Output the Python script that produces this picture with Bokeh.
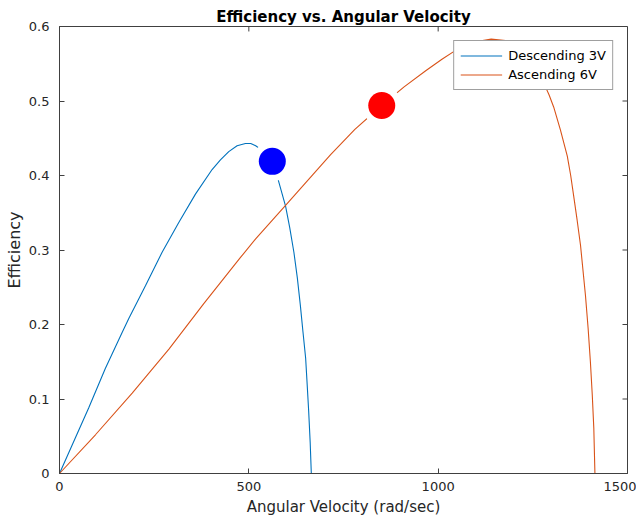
from bokeh.plotting import figure
from bokeh.models import Range1d, Legend, LegendItem
from bokeh.embed import file_html
from bokeh.resources import INLINE

# Descending 3V (blue)
omega_3v = [0, 42, 77, 121, 166, 183, 227, 271, 315, 359, 403, 425, 447, 469, 491,
            505, 518, 540, 560, 577, 597, 608, 619, 628, 636, 643, 650, 654, 658,
            662, 665]
eff_3v = [0, 0.048, 0.088, 0.141, 0.19, 0.208, 0.252, 0.297, 0.337, 0.375, 0.408,
          0.421, 0.432, 0.440, 0.443, 0.443, 0.44, 0.432, 0.415, 0.395, 0.359, 0.330,
          0.297, 0.263, 0.226, 0.19, 0.155, 0.12, 0.084, 0.042, 0.0]

# Ascending 6V (orange)
omega_6v = [0, 95, 192, 289, 381, 478, 518, 597, 716, 780, 851, 910, 968, 1010,
            1046, 1080, 1106, 1140, 1178, 1205, 1230, 1260, 1279, 1293, 1305, 1323,
            1341, 1350, 1358, 1367, 1376, 1389, 1396, 1402, 1407, 1411, 1414]
eff_6v = [0, 0.052, 0.108, 0.167, 0.228, 0.29, 0.315, 0.36, 0.428, 0.462, 0.494,
          0.519, 0.541, 0.556, 0.568, 0.576, 0.580, 0.583, 0.581, 0.573, 0.561,
          0.541, 0.524, 0.508, 0.492, 0.461, 0.426, 0.40, 0.372, 0.34, 0.306,
          0.239, 0.195, 0.150, 0.105, 0.061, 0.0]

# Highlight markers
marker_omega = [562, 851]
marker_eff = [0.419, 0.494]
marker_colors = ["#0000FF", "#FF0000"]

x_ticks = [0, 500, 1000, 1500]
y_ticks = [0, 0.1, 0.2, 0.3, 0.4, 0.5, 0.6]

FONT = "DejaVu Sans"
TXT = "#262626"
AX = "#404040"

X0, X1, Y0, Y1 = 0, 1500, 0, 0.6
W, H = 636, 518
BL, BR, BT, BB = 59, 9, 26, 42

p = figure(width=W, height=H, output_backend="svg", toolbar_location=None,
           x_range=Range1d(X0, X1), y_range=Range1d(Y0, Y1),
           title="Efficiency vs. Angular Velocity")
p.min_border_left = BL
p.min_border_right = BR
p.min_border_top = BT
p.min_border_bottom = BB
p.background_fill_color = "white"
p.border_fill_color = "white"
p.outline_line_color = AX
p.outline_line_width = 1
p.xgrid.visible = False
p.ygrid.visible = False

p.title.text_font = FONT
p.title.text_font_size = "15px"
p.title.text_font_style = "bold"
p.title.text_color = "#000000"
p.title.align = "center"
p.title.vertical_align = "middle"
p.title.offset = 0
p.title.standoff = 0

xa = p.xaxis[0]
ya = p.yaxis[0]
for ax in (xa, ya):
    ax.major_tick_in = 5
    ax.major_tick_out = 0
    ax.minor_tick_line_color = None
    ax.axis_line_color = AX
    ax.major_tick_line_color = AX
    ax.major_label_text_font = FONT
    ax.major_label_text_font_size = "13px"
    ax.major_label_text_color = TXT
    ax.axis_label_text_font = FONT
    ax.axis_label_text_font_style = "normal"
    ax.axis_label_text_color = TXT

xa.ticker = x_ticks
ya.ticker = y_ticks
ya.major_label_overrides = {0: "0"}
xa.axis_label = "Angular Velocity (rad/sec)"
ya.axis_label = "Efficiency"
xa.axis_label_text_font_size = "15px"
ya.axis_label_text_font_size = "16px"
xa.major_label_standoff = 8
xa.axis_label_standoff = 4
ya.major_label_standoff = 10
ya.axis_label_standoff = 2

# inward ticks on the top and right edges of the box (5 px long)
frame_w = W - BL - BR
frame_h = H - BT - BB
dx = 5 * (X1 - X0) / frame_w
dy = 5 * (Y1 - Y0) / frame_h
p.segment(x0=x_ticks, y0=[Y1] * len(x_ticks), x1=x_ticks, y1=[Y1 - dy] * len(x_ticks),
          line_color=AX, line_width=1)
p.segment(x0=[X1] * len(y_ticks), y0=y_ticks, x1=[X1 - dx] * len(y_ticks), y1=y_ticks,
          line_color=AX, line_width=1)

r1 = p.line(omega_3v, eff_3v, line_color="#0072BD", line_width=1.1)
r2 = p.line(omega_6v, eff_6v, line_color="#D95319", line_width=1.1)

p.scatter(marker_omega, marker_eff, size=40, fill_color="white", line_color=None)
p.scatter(marker_omega, marker_eff, size=27, fill_color=marker_colors, line_color=None)

legend = Legend(items=[LegendItem(label="Descending 3V", renderers=[r1]),
                       LegendItem(label="Ascending 6V", renderers=[r2])],
                location="top_right")
legend.margin = 14
legend.padding = 6
legend.spacing = 2
legend.label_height = 17
legend.glyph_height = 17
legend.glyph_width = 42
legend.label_standoff = 6
legend.label_text_font = FONT
legend.label_text_font_size = "13px"
legend.label_text_color = "#000000"
legend.border_line_color = AX
legend.border_line_width = 1
legend.background_fill_color = "white"
legend.background_fill_alpha = 1
p.add_layout(legend, "center")

open("out.html", "w").write(file_html(p, INLINE))
